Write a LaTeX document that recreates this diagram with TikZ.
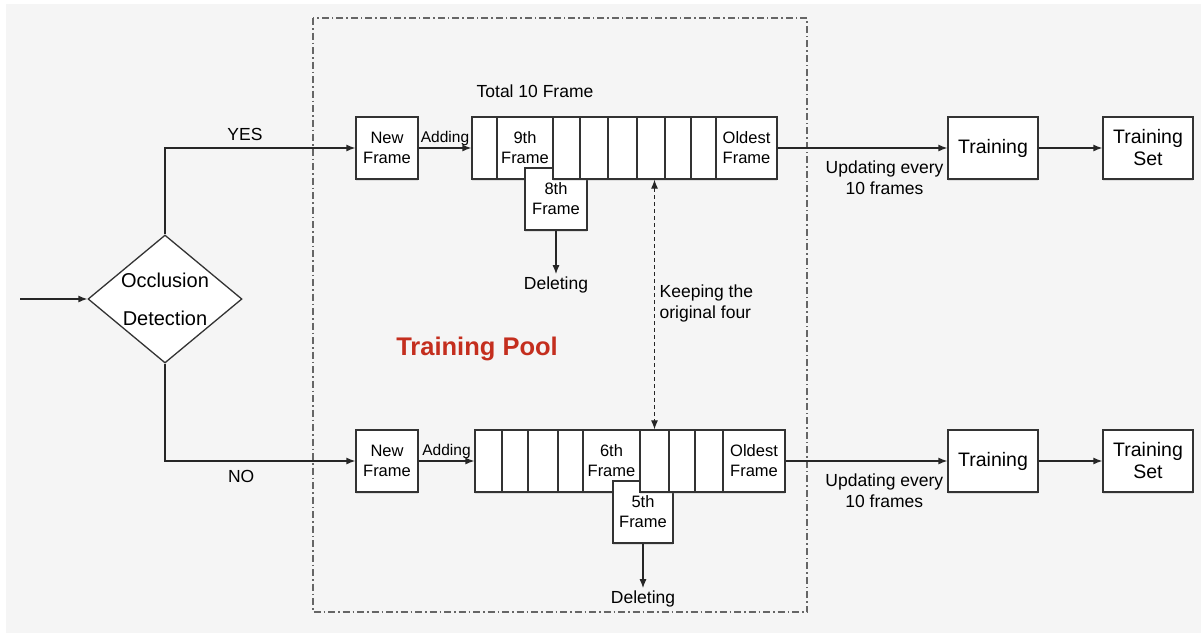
\documentclass[tikz,border=0pt]{standalone}
\usepackage{fontspec}
\setmainfont{Liberation Sans}
\usetikzlibrary{shapes.geometric,shadows,arrows.meta}
\definecolor{poolred}{RGB}{196,46,30}

\begin{document}
\begin{tikzpicture}[x=1pt,y=-1pt,>={Latex[length=9pt,width=7pt]},line width=1.3pt,
	box/.style={draw=black!80,fill=white,rectangle,inner sep=0pt,align=center,minimum height=62pt,
	drop shadow={shadow xshift=0pt,shadow yshift=-2pt,opacity=.2}},
	frm/.style={box,font=\fontsize{16.5}{20}\selectfont},
	trn/.style={box,minimum width=90pt,font=\fontsize{19.5}{22}\selectfont},
	lbl/.style={font=\fontsize{17.5}{21}\selectfont,inner sep=2pt,align=center},
	addlbl/.style={font=\fontsize{15.5}{18}\selectfont,inner sep=2pt},
	flow/.style={->,draw=black!85}]
\fill[black!4] (6,4) rectangle (1201,633);
\useasboundingbox (0,0) rectangle (1201,633);
\draw[black!60,line width=1.2pt,dash pattern=on 7pt off 3pt on 1.5pt off 3pt] (313,18) rectangle (807,612);

\node[diamond,draw=black!80,fill=white,aspect=1.2,minimum width=154pt,minimum height=128pt,inner sep=0pt,
	align=center,font=\fontsize{20}{38}\selectfont] (occ) at (165,299) {Occlusion\\Detection};
\coordinate (src) at (20,299);
\draw[flow] (src) -- (occ.west);

\node[frm,minimum width=62pt] (new1) at (387,148) {New\\Frame};
\node[frm,minimum width=62pt] (new2) at (387,461) {New\\Frame};
\draw[flow] (occ.north) |- node[lbl,pos=.71,above=5pt] {YES} (new1.west);
\draw[flow] (occ.south) |- node[lbl,pos=.7,below=7pt] {NO} (new2.west);

\node[lbl] (total) at (535,91) {Total 10 Frame};
\foreach \l/\r/\txt [count=\i] in {472/497/{},497/553/{9th\\Frame}}
	\node[frm,minimum width={\r-\l}] (top\i) at ({(\l+\r)/2},148) {\txt};
\node[frm,minimum width=62pt] (drop1) at (556,199) {8th\\Frame};
\foreach \l/\r/\txt [count=\i from 3] in {553/580/{},580/608/{},608/637/{},637/665/{},665/691/{},691/716/{},716/777/{Oldest\\Frame}}
	\node[frm,minimum width={\r-\l}] (top\i) at ({(\l+\r)/2},148) {\txt};
\node[lbl] (del1) at (556,285) {Deleting};
\draw[flow] (new1) -- node[addlbl,above] {Adding} (top1);
\draw[flow] (drop1) -- (del1);

\foreach \l/\r/\txt [count=\i] in {475/502/{},502/528/{},528/558/{},558/583/{},583/640/{6th\\Frame}}
	\node[frm,minimum width={\r-\l}] (bot\i) at ({(\l+\r)/2},461) {\txt};
\node[frm,minimum width=60pt] (drop2) at (643,512) {5th\\Frame};
\foreach \l/\r/\txt [count=\i from 6] in {640/669/{},669/695/{},695/723/{},723/785/{Oldest\\Frame}}
	\node[frm,minimum width={\r-\l}] (bot\i) at ({(\l+\r)/2},461) {\txt};
\node[lbl] (del2) at (643,599) {Deleting};
\draw[flow] (new2) -- node[addlbl,above] {Adding} (bot1);
\draw[flow] (drop2) -- (del2);

\draw[<->,draw=black!85,line width=1pt,dash pattern=on 4pt off 3pt] (bot6.north |- top6.south) -- (bot6.north);
\node[lbl,anchor=west,align=left] (keep) at (657,303) {Keeping the\\original four};
\node[font=\fontsize{25.5}{30}\selectfont\bfseries,text=poolred] (pool) at (477,349) {Training Pool};

\node[trn] (train1) at (993,148) {Training};
\node[trn] (set1) at (1148,148) {Training\\Set};
\node[trn] (train2) at (993,461) {Training};
\node[trn] (set2) at (1148,461) {Training\\Set};
\draw[flow] (top9.east) -- node[lbl,pos=.63,below=10pt] {Updating every\\10 frames} (train1.west);
\draw[flow] (bot9.east) -- node[lbl,pos=.61,below=10pt] {Updating every\\10 frames} (train2.west);
\draw[flow] (train1) -- (set1);
\draw[flow] (train2) -- (set2);
\end{tikzpicture}
\end{document}
